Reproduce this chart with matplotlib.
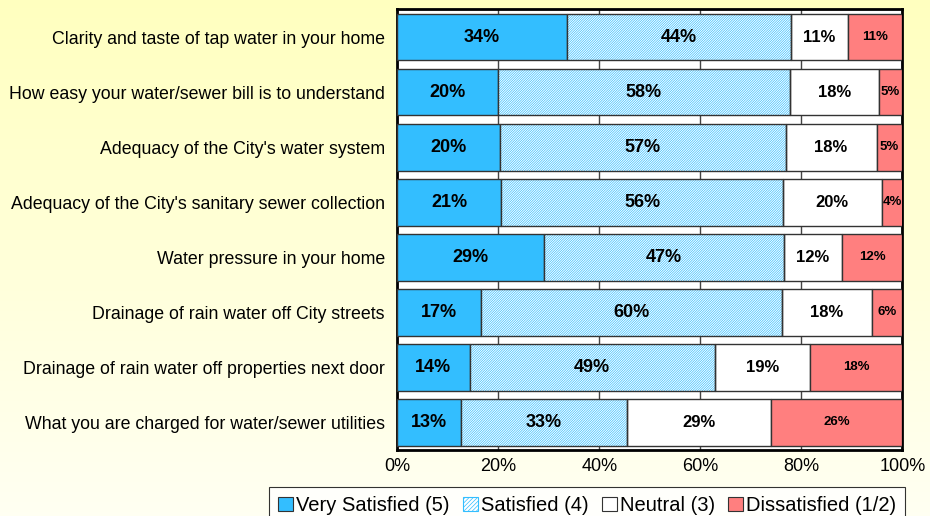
import numpy as np
import matplotlib
matplotlib.use("Agg")
import matplotlib.pyplot as plt
from matplotlib.patches import Patch

plt.rcParams['font.family'] = ['Liberation Sans', 'DejaVu Sans']
plt.rcParams['hatch.linewidth'] = 0.5

categories = [
    "Clarity and taste of tap water in your home",
    "How easy your water/sewer bill is to understand",
    "Adequacy of the City's water system",
    "Adequacy of the City's sanitary sewer collection",
    "Water pressure in your home",
    "Drainage of rain water off City streets",
    "Drainage of rain water off properties next door",
    "What you are charged for water/sewer utilities",
]
very_satisfied = [33.6, 19.9, 20.3, 20.6, 29.1, 16.6, 14.3, 12.6]
satisfied      = [44.3, 57.9, 56.6, 55.8, 47.4, 59.6, 48.6, 32.8]
neutral        = [11.4, 17.6, 18.0, 19.5, 11.6, 17.8, 18.9, 28.7]
dissatisfied   = [10.7,  4.6,  5.1,  4.2, 11.9,  6.0, 18.2, 25.9]
series_names = ["Very Satisfied (5)", "Satisfied (4)", "Neutral (3)", "Dissatisfied (1/2)"]
x_ticks = [0, 20, 40, 60, 80, 100]

BLUE = "#33BEFF"
RED = "#FF7F7F"
EDGE = "#333333"

fig = plt.figure(figsize=(9.3, 5.16), dpi=100)

# pale yellow vertical gradient behind everything
bg = fig.add_axes([0, 0, 1, 1], zorder=-10)
top = np.array([1.0, 1.0, 0.75])
bot = np.array([1.0, 1.0, 0.95])
t = np.linspace(0, 1, 256)[:, None]
grad = top[None, :] * (1 - t) + bot[None, :] * t
bg.imshow(grad[:, None, :], aspect='auto', extent=[0, 1, 0, 1])
bg.axis('off')

ax = fig.add_axes([0.4272, 0.1279, 0.5430, 0.8537])
ax.set_facecolor("white")

y = np.arange(len(categories))
h = 0.85
vs = np.array(very_satisfied)
sa = np.array(satisfied)
ne = np.array(neutral)
di = np.array(dissatisfied)

ax.barh(y, vs, height=h, color=BLUE, edgecolor=EDGE, linewidth=1, zorder=3)
# hatched "satisfied" segment: hatch layer then outline
ax.barh(y, sa, left=vs, height=h, color="white", edgecolor=BLUE, hatch="/" * 14,
        linewidth=0, zorder=3)
ax.barh(y, sa, left=vs, height=h, fill=False, edgecolor=EDGE, linewidth=1, zorder=4)
ax.barh(y, ne, left=vs + sa, height=h, color="white", edgecolor=EDGE, linewidth=1, zorder=3)
ax.barh(y, di, left=vs + sa + ne, height=h, color=RED, edgecolor=EDGE, linewidth=1, zorder=3)

for i in range(len(categories)):
    ax.text(vs[i] / 2, y[i], f"{vs[i]:.0f}%", ha="center", va="center",
            fontsize=13, fontweight="bold", zorder=5)
    ax.text(vs[i] + sa[i] / 2, y[i], f"{sa[i]:.0f}%", ha="center", va="center",
            fontsize=13, fontweight="bold", zorder=5)
    ax.text(vs[i] + sa[i] + ne[i] / 2, y[i], f"{ne[i]:.0f}%", ha="center", va="center",
            fontsize=12, fontweight="bold", zorder=5)
    ax.text(vs[i] + sa[i] + ne[i] + di[i] / 2, y[i], f"{di[i]:.0f}%", ha="center",
            va="center", fontsize=9.5, fontweight="bold", zorder=5)

ax.set_xlim(0, 100)
ax.set_ylim(len(categories) - 0.5, -0.5)
ax.set_yticks(y)
ax.set_yticklabels(categories, fontsize=12.8)
ax.set_xticks(x_ticks)
ax.set_xticklabels([f"{v}%" for v in x_ticks], fontsize=13)
ax.tick_params(axis="y", length=0, pad=9)
ax.tick_params(axis="x", length=0, pad=6)
ax.xaxis.grid(True, color="#444444", linewidth=1, zorder=1)
ax.set_axisbelow(True)
for s in ax.spines.values():
    s.set_linewidth(2)
    s.set_color("black")

handles = [
    Patch(facecolor=BLUE, edgecolor=EDGE, linewidth=0.8),
    Patch(facecolor="white", edgecolor=BLUE, hatch="/" * 8, linewidth=0.8),
    Patch(facecolor="white", edgecolor=EDGE, linewidth=0.8),
    Patch(facecolor=RED, edgecolor=EDGE, linewidth=0.8),
]
leg = fig.legend(handles, series_names, loc="upper center", bbox_to_anchor=(0.6315, 0.0565),
                 ncol=4, fontsize=14.5, frameon=True, fancybox=False,
                 handlelength=0.75, handleheight=0.75, handletextpad=0.15,
                 columnspacing=0.65, borderpad=0.45, borderaxespad=0)
leg.get_frame().set_edgecolor("black")
leg.get_frame().set_linewidth(0.8)

fig.savefig("out.png", dpi=100)
